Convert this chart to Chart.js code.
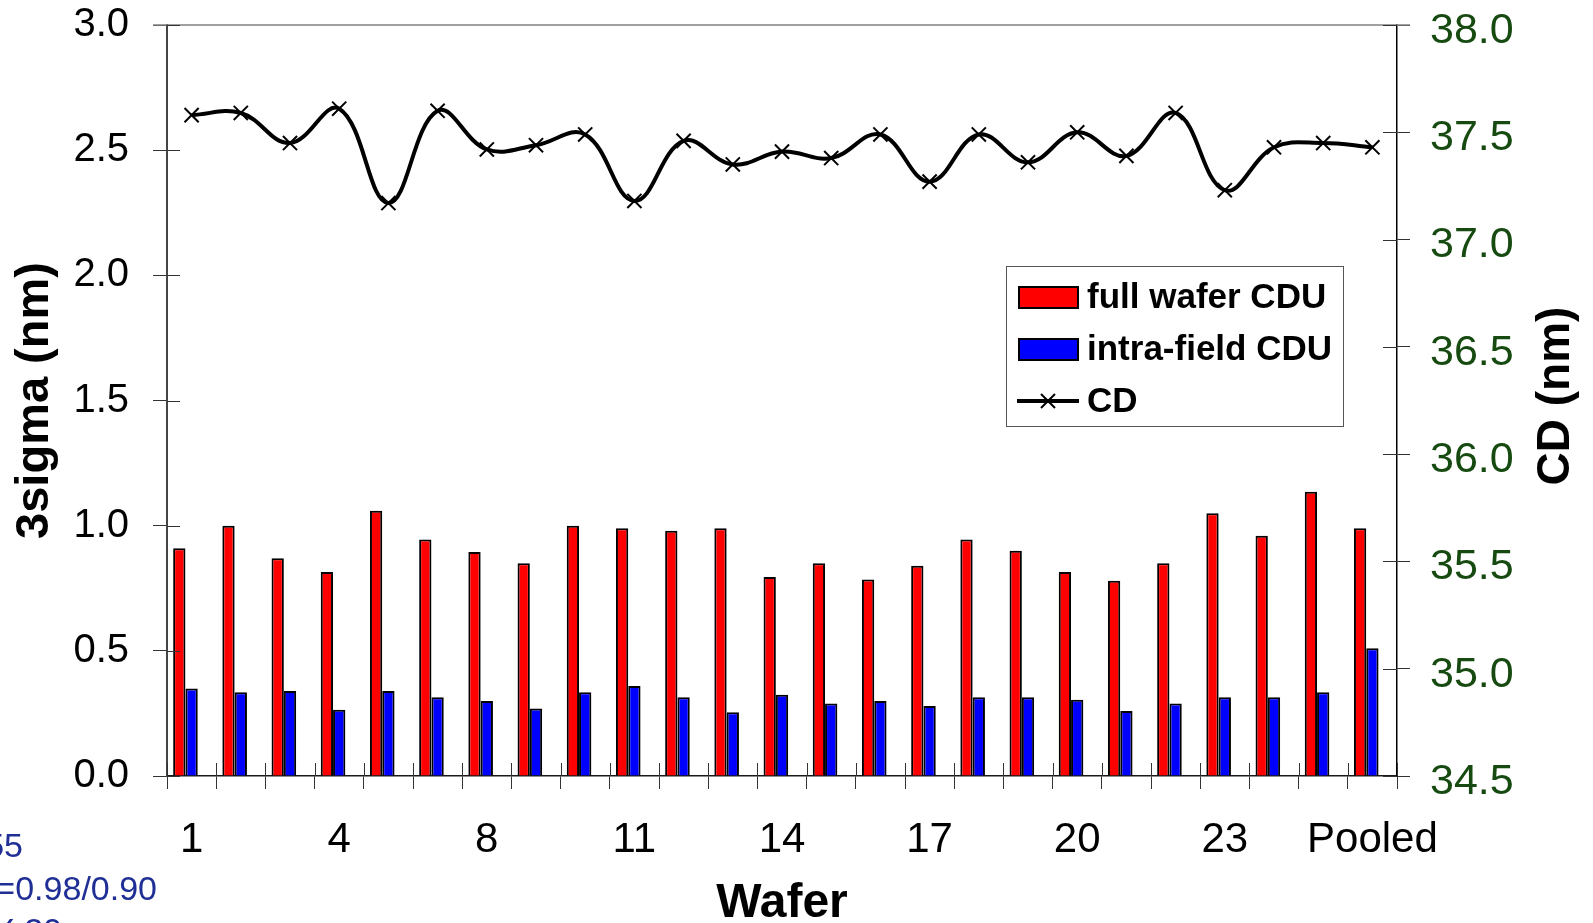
<!DOCTYPE html>
<html>
<head>
<meta charset="utf-8">
<script src="https://cdn.jsdelivr.net/npm/chart.js@4"></script>
<style>
  html, body { margin: 0; padding: 0; background: #fff; }
  canvas { display: block; }
</style>
</head>
<body>
<canvas id="graficoCdu" width="1593" height="923"></canvas>
<script>
// wafer 7 is missing from the lot, pooled value closes the row
const wafers = ["1", "2", "3", "4", "5", "6", "8", "9", "10", "11", "12", "13", "14",
  "15", "16", "17", "18", "19", "20", "21", "22", "23", "24", "25", "Pooled"];

const fullWafer = [0.91, 1.00, 0.87, 0.815, 1.06, 0.945, 0.895, 0.85, 1.00, 0.99, 0.98, 0.99, 0.795,
  0.85, 0.785, 0.84, 0.945, 0.90, 0.815, 0.78, 0.85, 1.05, 0.96, 1.135, 0.99];

const intraField = [0.35, 0.335, 0.34, 0.265, 0.34, 0.315, 0.30, 0.27, 0.335, 0.36, 0.315, 0.255, 0.325,
  0.29, 0.30, 0.28, 0.315, 0.315, 0.305, 0.26, 0.29, 0.315, 0.315, 0.335, 0.51];

const cd = [37.58, 37.59, 37.45, 37.61, 37.17, 37.60, 37.42, 37.44, 37.49, 37.18, 37.46, 37.35, 37.41,
  37.38, 37.49, 37.27, 37.49, 37.36, 37.50, 37.39, 37.59, 37.23, 37.43, 37.45, 37.43];

// empty third slot so the red/blue pair sits left of the category centre
const spacer = wafers.map(() => null);

const notes = ["k1=0.255", "σ=0.98/0.90", "X.20"];

const fonte = "'Liberation Sans', Arial, sans-serif";

// keep the plot box fixed: no extra room for half labels
const noPad = (s) => {
  s.paddingTop = 0;
  s.paddingBottom = 0;
  s.paddingLeft = 0;
  s.paddingRight = 0;
};

const extras = {
  id: "extras",
  afterDatasetsDraw(chart) {
    const { ctx, chartArea: area, scales } = chart;
    ctx.save();

    // top border of the plot
    ctx.strokeStyle = "#808080";
    ctx.lineWidth = 1.5;
    ctx.beginPath();
    ctx.moveTo(area.left - 14, area.top);
    ctx.lineTo(area.right + 13, area.top);
    ctx.stroke();

    // tick marks cross the axes, draw the inner halves
    ctx.strokeStyle = "#333";
    ctx.lineWidth = 1;
    ctx.beginPath();
    scales.y.ticks.forEach((t, i) => {
      const y = Math.round(scales.y.getPixelForTick(i)) + 0.5;
      ctx.moveTo(area.left, y);
      ctx.lineTo(area.left + 13, y);
    });
    scales.y1.ticks.forEach((t, i) => {
      const y = Math.round(scales.y1.getPixelForTick(i)) + 0.5;
      ctx.moveTo(area.right - 14, y);
      ctx.lineTo(area.right, y);
    });
    const half = (scales.x.getPixelForValue(1) - scales.x.getPixelForValue(0)) / 2;
    for (let i = 0; i <= wafers.length; i++) {
      const x = Math.round(scales.x.getPixelForValue(i) - half) + 0.5;
      ctx.moveTo(x, area.bottom);
      ctx.lineTo(x, area.bottom - 13);
    }
    ctx.stroke();
    ctx.restore();
  },
  afterDraw(chart) {
    const { ctx } = chart;
    const ds = chart.data.datasets;
    ctx.save();

    // legend box
    ctx.fillStyle = "#fff";
    ctx.fillRect(1006, 266, 337, 160);
    ctx.strokeStyle = "#555";
    ctx.lineWidth = 1;
    ctx.strokeRect(1006.5, 266.5, 337, 160);

    ctx.font = "bold 35px " + fonte;
    ctx.textBaseline = "middle";
    ctx.textAlign = "left";
    [ds[1], ds[2]].forEach((d, i) => {
      const yc = 297 + i * 52;
      ctx.fillStyle = d.backgroundColor;
      ctx.fillRect(1019, yc - 10, 59, 21);
      ctx.strokeStyle = "#000";
      ctx.lineWidth = 2;
      ctx.strokeRect(1019, yc - 10, 59, 21);
      ctx.fillStyle = "#000";
      ctx.fillText(d.label, 1087, yc + 1);
    });
    const yl = 401;
    ctx.strokeStyle = "#000";
    ctx.lineWidth = 4;
    ctx.beginPath();
    ctx.moveTo(1017, yl);
    ctx.lineTo(1079, yl);
    ctx.stroke();
    ctx.lineWidth = 2;
    ctx.beginPath();
    ctx.moveTo(1041, yl - 7);
    ctx.lineTo(1055, yl + 7);
    ctx.moveTo(1041, yl + 7);
    ctx.lineTo(1055, yl - 7);
    ctx.stroke();
    ctx.fillStyle = "#000";
    ctx.fillText(ds[0].label, 1087, yl + 1);

    // right axis title reads bottom to top
    ctx.translate(1556, 396);
    ctx.rotate(-Math.PI / 2);
    ctx.textAlign = "center";
    ctx.font = "bold 46px " + fonte;
    ctx.fillText("CD (nm)", 0, 0);
    ctx.setTransform(1, 0, 0, 1, 0, 0);

    // process notes running off the left edge
    ctx.font = "34px " + fonte;
    ctx.fillStyle = "#1f2f96";
    ctx.textAlign = "right";
    ctx.textBaseline = "alphabetic";
    ctx.fillText(notes[0], 23, 857);
    ctx.fillText(notes[1], 157, 900);
    ctx.fillText(notes[2], 62, 942);
    ctx.restore();
  }
};

new Chart(document.getElementById("graficoCdu"), {
  type: "bar",
  data: {
    labels: wafers,
    datasets: [
      {
        type: "line",
        label: "CD",
        data: cd,
        yAxisID: "y1",
        borderColor: "#000",
        backgroundColor: "#000",
        borderWidth: 4,
        tension: 0.4,
        pointStyle: "crossRot",
        pointRadius: 10,
        pointBorderWidth: 2,
        pointBorderColor: "#000",
        order: 0,
      },
      {
        label: "full wafer CDU",
        data: fullWafer,
        yAxisID: "y",
        backgroundColor: "#ff0000",
        borderColor: "#000",
        borderWidth: 2,
        order: 1,
      },
      {
        label: "intra-field CDU",
        data: intraField,
        yAxisID: "y",
        backgroundColor: "#0000ff",
        borderColor: "#000",
        borderWidth: 2,
        order: 1,
      },
      {
        label: "",
        data: spacer,
        yAxisID: "y",
        backgroundColor: "rgba(0,0,0,0)",
        borderWidth: 0,
        order: 1,
      },
    ],
  },
  options: {
    responsive: false,
    animation: false,
    devicePixelRatio: 1,
    categoryPercentage: 0.75,
    barPercentage: 1,
    layout: { padding: { top: 25, left: 0, right: 0, bottom: 0 } },
    plugins: {
      legend: { display: false },
      tooltip: { enabled: false },
    },
    scales: {
      x: {
        grid: { offset: true, drawOnChartArea: false, tickLength: 13, color: "#333" },
        border: { color: "#1a1a1a", width: 1.5 },
        ticks: {
          autoSkip: false,
          maxRotation: 0,
          padding: 26,
          color: "#000",
          font: { family: fonte, size: 42 },
          callback: (v, i) => (i % 3 === 0 ? wafers[i] : ""),
        },
        title: {
          display: true,
          text: "Wafer",
          color: "#000",
          font: { family: fonte, size: 48, weight: "bold", lineHeight: 0.8 },
          padding: 0,
        },
        afterFit: (s) => { noPad(s); s.height = 147; },
      },
      y: {
        position: "left",
        min: 0,
        max: 3,
        ticks: {
          stepSize: 0.5,
          padding: 24,
          color: "#000",
          font: { family: fonte, size: 40 },
          callback: (v) => v.toFixed(1),
        },
        grid: { drawOnChartArea: false, tickLength: 14, color: "#333" },
        border: { color: "#444", width: 2 },
        title: {
          display: true,
          text: "3sigma (nm)",
          color: "#000",
          font: { family: fonte, size: 47, weight: "bold", lineHeight: 1 },
          padding: { top: 12, bottom: 0 },
        },
        afterFit: (s) => { noPad(s); s.width = 167; },
      },
      y1: {
        position: "right",
        min: 34.5,
        max: 38,
        ticks: {
          stepSize: 0.5,
          padding: 20,
          labelOffset: 6,
          color: "#164a10",
          font: { family: fonte, size: 43 },
          callback: (v) => v.toFixed(1),
        },
        grid: { drawOnChartArea: false, tickLength: 13, color: "#333" },
        border: { color: "#000", width: 1.5 },
        afterFit: (s) => { noPad(s); s.width = 196; },
      },
    },
  },
  plugins: [extras],
});
</script>
</body>
</html>
